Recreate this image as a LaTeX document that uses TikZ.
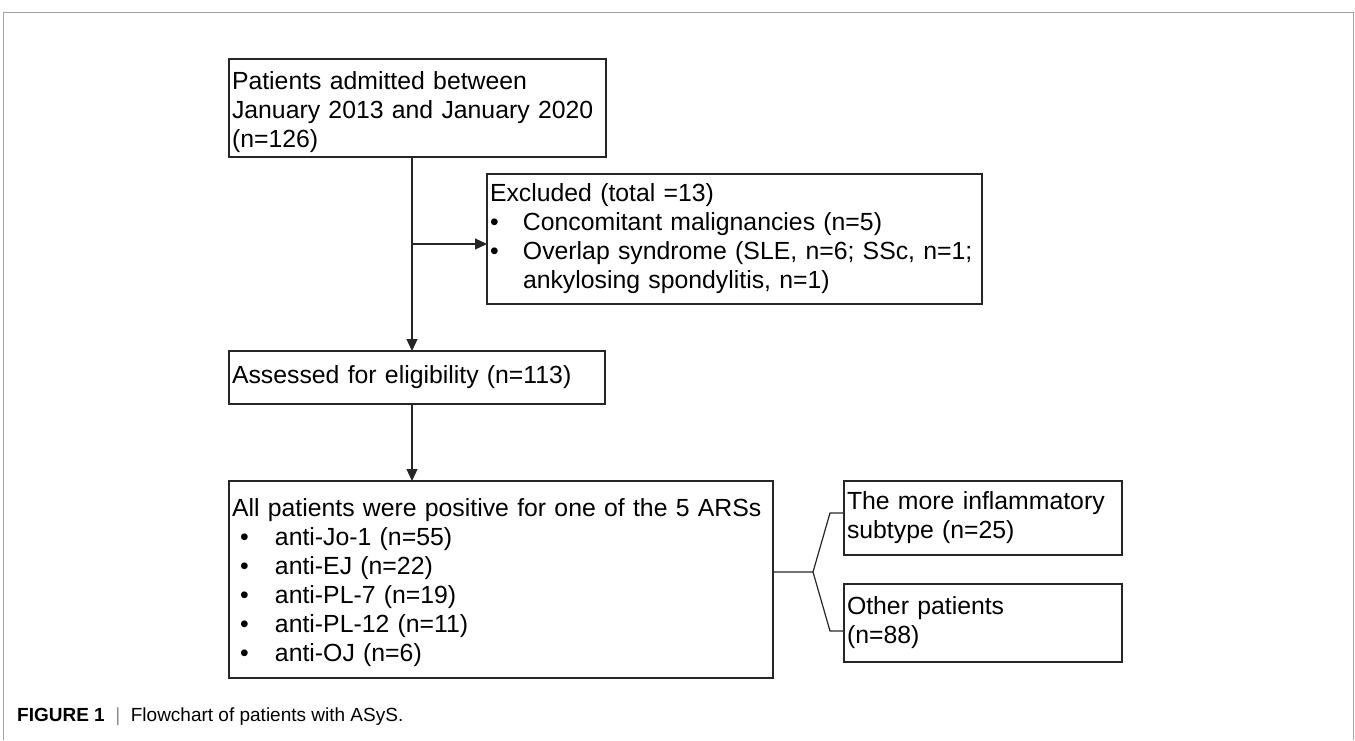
\documentclass[tikz,border=0pt]{standalone}
\usepackage{fontspec}
\setmainfont{Liberation Sans}
\usetikzlibrary{arrows.meta}
\newcommand{\boxfont}{\fontsize{24.8}{29}\selectfont}
\newcommand{\bul}{\makebox[33pt][l]{\textbullet}}
\newcommand{\bulb}{\hspace*{8pt}\makebox[35pt][l]{\textbullet}}
\newcommand{\ind}{\hspace*{33pt}}
\begin{document}
\begin{tikzpicture}[x=1pt,y=-1pt,
  fbox/.style={draw=black!85, line width=1.2pt, inner xsep=3pt, inner ysep=0pt,
    align=left, font=\boxfont, anchor=center, outer sep=0pt},
  conn/.style={draw=black!85, line width=1.2pt},
  arr/.style={conn, -{Triangle[length=12pt,width=11pt]}}]
\useasboundingbox (0,0) rectangle (1355,740);
\draw[line width=1.3pt, draw=black!35] (3.5,740) -- (3.5,12.5) -- (1353.5,12.5) -- (1353.5,740);

\node[fbox, minimum width=377pt, minimum height=98pt, text width=371pt] (B1) at (417.5,108)
  {\rule{0pt}{27pt}Patients admitted between\\January 2013 and January 2020\\(n=126)};
\node[fbox, minimum width=495pt, minimum height=130pt, text width=489pt] (B2) at (734.5,239)
  {Excluded (total =13)\\\bul Concomitant malignancies (n=5)\\\bul Overlap syndrome (SLE, n=6; SSc, n=1;\\\ind ankylosing spondylitis, n=1)};
\node[fbox, minimum width=376pt, minimum height=53pt, text width=370pt] (B3) at (417,377.5)
  {Assessed for eligibility (n=113)};
\node[fbox, minimum width=544pt, minimum height=197pt, text width=538pt] (B4) at (501,579.5)
  {\rule{0pt}{24pt}All patients were positive for one of the 5 ARSs\\\bulb anti-Jo-1 (n=55)\\\bulb anti-EJ (n=22)\\\bulb anti-PL-7 (n=19)\\\bulb anti-PL-12 (n=11)\\\bulb anti-OJ (n=6)};
\node[fbox, minimum width=278pt, minimum height=74pt, text width=272pt] (B5) at (983,518)
  {The more inflammatory\\subtype (n=25)};
\node[fbox, minimum width=278pt, minimum height=78pt, text width=272pt] (B6) at (983,623)
  {Other patients\\(n=88)};

\coordinate (v) at (412,0);
\coordinate (br) at (412,244);
\coordinate (j) at (813,572);
\coordinate (u) at (830,513);
\coordinate (l) at (830,631);

\draw[arr] (B1.south -| v) -- (B3.north -| v);
\draw[arr] (br) -- (B2.west |- br);
\draw[arr] (B3.south -| v) -- (B4.north -| v);
\draw[conn] (B4.east |- j) -- (j) -- (u) -- (B5.west |- u);
\draw[conn] (j) -- (l) -- (B6.west |- l);

\node[anchor=base west, inner sep=0pt, font=\fontsize{19}{22}\selectfont] (cap) at (17,721)
  {\textbf{FIGURE 1}\ \ \textcolor{black!45}{|}\ \ Flowchart of patients with ASyS.};
\end{tikzpicture}
\end{document}
